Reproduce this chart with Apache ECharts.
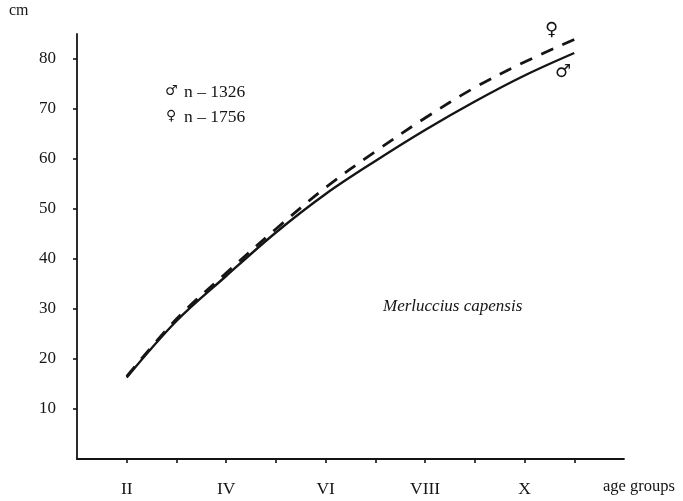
<!DOCTYPE html>
<html><head><meta charset="utf-8">
<script src="https://cdn.jsdelivr.net/npm/echarts@6/dist/echarts.min.js"></script>
<style>html,body{margin:0;padding:0;background:#fff}#c{width:683px;height:501px}</style>
</head><body><div id="c"></div>
<script>
// Age groups (numeric) and mean length (cm)
const ages = [2, 3, 4, 5, 6, 7, 8, 9, 10, 11];
const maleLength = [16.3, 27.6, 36.6, 45.3, 53.0, 59.6, 65.8, 71.5, 76.7, 81.2];
const femaleLength = [16.5, 28.0, 37.2, 46.0, 54.3, 61.5, 68.2, 74.3, 79.4, 83.9];
const xTickValues = [2, 3, 4, 5, 6, 7, 8, 9, 10, 11];
const xLabelValues = [2, 4, 6, 8, 10];
const xLabelText = ['II', 'IV', 'VI', 'VIII', 'X'];
const yLabelValues = [10, 20, 30, 40, 50, 60, 70, 80];
const legendSymbols = ['\u2642', '\u2640'];
const legendTexts = ['n \u2013 1326', 'n \u2013 1756'];
const speciesName = 'Merluccius capensis';

const serif = '"Liberation Serif", "DejaVu Serif", serif';
const ink = '#151515';
const chart = echarts.init(document.getElementById('c'), null, {renderer: 'canvas'});
chart.setOption({
  backgroundColor: '#ffffff',
  animation: false,
  grid: {left: 77, right: 59, top: 34, bottom: 42},
  xAxis: {
    type: 'value', min: 1, max: 12, interval: 1,
    axisLine: {show: true, lineStyle: {color: ink, width: 1.8}},
    axisTick: {show: true, length: 4, lineStyle: {color: ink, width: 1.6}, customValues: xTickValues},
    axisLabel: {
      customValues: xLabelValues, margin: 21, color: ink,
      fontFamily: serif, fontSize: 17.5,
      formatter: v => xLabelText[xLabelValues.indexOf(v)] || ''
    },
    splitLine: {show: false}
  },
  yAxis: {
    type: 'value', min: 0, max: 85, interval: 10,
    axisLine: {show: true, lineStyle: {color: ink, width: 1.8}},
    axisTick: {show: true, length: 4, lineStyle: {color: ink, width: 1.6}, customValues: yLabelValues},
    axisLabel: {customValues: yLabelValues, margin: 21, color: ink, fontFamily: serif, fontSize: 17},
    splitLine: {show: false}
  },
  series: [
    {
      name: 'male', type: 'line', smooth: 0.35, symbol: 'none',
      data: ages.map((a, i) => [a, maleLength[i]]),
      lineStyle: {color: ink, width: 2.4, type: 'solid'}
    },
    {
      name: 'female', type: 'line', smooth: 0.35, symbol: 'none',
      data: ages.map((a, i) => [a, femaleLength[i]]),
      lineStyle: {color: ink, width: 2.8, type: [13, 10]}
    }
  ],
  graphic: [
    {type: 'text', left: 9, top: 3, style: {text: 'cm', font: '16px ' + serif, fill: ink}},
    {type: 'text', left: 603, top: 478, style: {text: 'age groups', font: '16.5px ' + serif, fill: ink}},
    {type: 'text', left: 165, top: 84, style: {text: legendSymbols[0], font: '14px "DejaVu Serif", serif', fill: ink}},
    {type: 'text', left: 184, top: 83, style: {text: legendTexts[0], font: '17.5px ' + serif, fill: ink}},
    {type: 'text', left: 166, top: 109, style: {text: legendSymbols[1], font: '14px "DejaVu Serif", serif', fill: ink}},
    {type: 'text', left: 184, top: 108, style: {text: legendTexts[1], font: '17.5px ' + serif, fill: ink}},
    {type: 'text', left: 383, top: 298, style: {text: speciesName, font: 'italic 17px ' + serif, fill: ink}},
    {type: 'text', left: 545, top: 21, style: {text: '\u2640', font: 'bold 18px "DejaVu Sans", sans-serif', fill: ink}},
    {type: 'text', left: 555, top: 63, style: {text: '\u2642', font: 'bold 18px "DejaVu Sans", sans-serif', fill: ink}}
  ]
});
</script></body></html>
